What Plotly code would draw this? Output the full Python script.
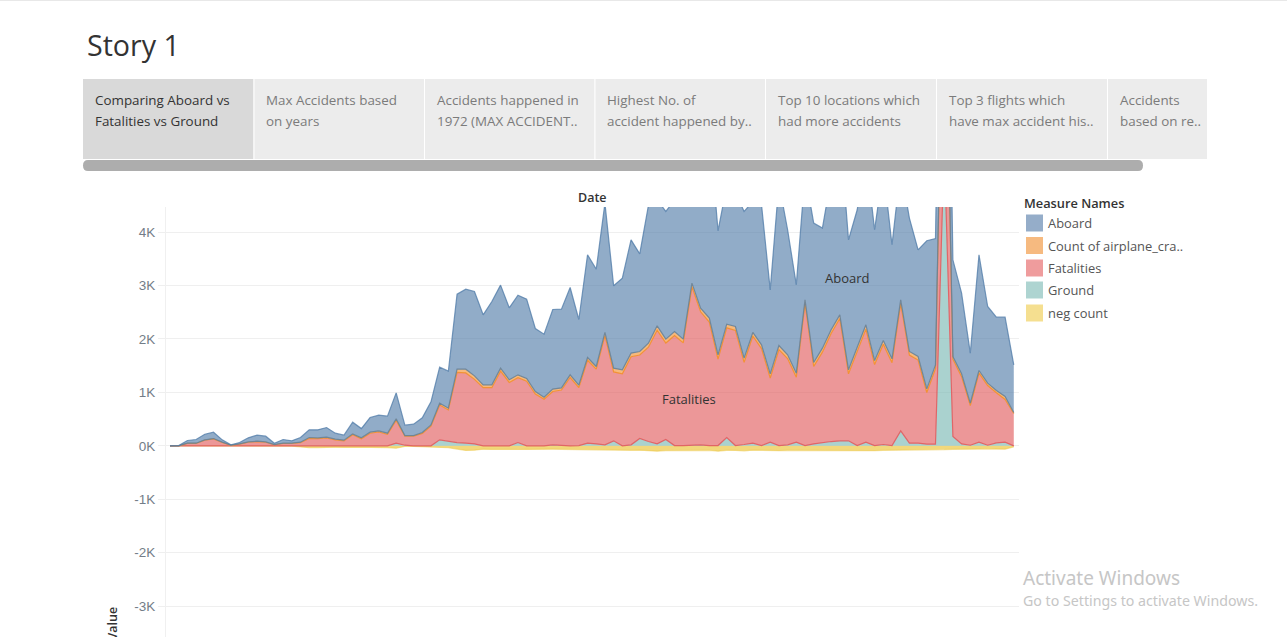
import plotly.graph_objects as go

# Values. *_top lists are the stacked upper edge of each band.
years = list(range(1912, 2010))
aboard_top = [0,6,100,119,218,256,112,19,62,150,200,181,50,119,94,156,300,300,343,237,200,443,324,530,574,555,992,387,406,524,824,1473,1398,2839,2933,2889,2452,2702,3008,2583,2820,2746,2196,2090,2552,2558,2964,2365,3576,3307,
 4543,2995,3139,3856,3594,4500,4605,4387,4605,4668,4730,4730,5978,4025,4867,4740,4387,4574,4512,2920,4917,4044,3014,5104,4168,4075,4980,5959,3856,4418,5466,4044,5198,3763,5204,4262,3669,3838,3881,14000,3482,2858,1735,3576,2608,2409,2409,1516]
count_top = [0,0,50,50,112,137,69,12,37,75,87,75,25,50,50,69,156,150,162,125,106,225,150,256,281,237,506,193,193,250,393,799,705,1435,1435,1310,1142,1142,1454,1236,1329,1260,1017,911,1061,1086,1329,1136,1654,1485,
 2122,1454,1423,1735,1766,1922,2246,1997,2140,1997,3045,2577,2390,1704,2278,2234,1641,2122,1891,1348,1878,1704,1360,2733,1560,1828,2172,2452,1423,1860,2265,1597,1972,1629,2733,1766,1672,1067,1516,9600,1672,1348,799,1410,1173,1036,924,624]
count_vals = [0,0,4,5,6,8,5,2,4,7,8,7,4,6,6,10,16,16,15,14,14,18,16,20,22,20,30,12,12,16,24,35,32,62,70,66,54,54,56,50,54,50,46,38,44,42,50,47,52,50,
 58,70,74,68,66,76,80,72,74,70,70,68,72,80,70,74,78,66,70,78,76,70,74,74,72,74,70,68,76,78,80,76,70,72,70,68,66,68,70,55,50,52,44,48,44,42,56,18]
neg_count = [0,0,-4,-5,-6,-8,-5,-2,-4,-7,-8,-7,-4,-6,-6,-20,-35,-35,-25,-25,-30,-25,-30,-30,-30,-35,-45,-10,-10,-15,-30,-35,-35,-60,-85,-80,-62,-66,-70,-66,-68,-66,-62,-62,-62,-64,-68,-66,-68,-72,
 -76,-84,-90,-84,-80,-92,-100,-88,-86,-84,-82,-80,-84,-100,-84,-86,-92,-80,-84,-92,-90,-84,-86,-86,-84,-90,-86,-92,-98,-88,-88,-90,-84,-84,-80,-80,-78,-78,-80,-70,-64,-66,-56,-60,-56,-56,-62,-18]
ground_top = [0]*26 + [50,12,0,0,0,112,81,62,50,37,0,0,0,0,62,0,0,0,19,6,0,6,50,37,
 19,94,0,19,137,81,37,119,6,6,19,19,6,6,156,6,25,50,6,69,6,19,69,6,37,62,81,94,94,6,69,6,25,6,281,50,50,31,31,5580,175,37,12,69,12,56,69,0]
tick_vals = [-3000,-2000,-1000,0,1000,2000,3000,4000]
tick_text = ["-3K","-2K","-1K","0K","1K","2K","3K","4K"]
tabs = ["Comparing Aboard vs<br>Fatalities vs Ground","Max Accidents based<br>on years","Accidents happened in<br>1972 (MAX ACCIDENT..","Highest No. of<br>accident happened by..","Top 10 locations which<br>had more accidents","Top 3 flights which<br>have max accident his..","Accidents<br>based on re.."]
legend_names = ["Aboard","Count of airplane_cra..","Fatalities","Ground","neg count"]

fatal_top = [c - n for c, n in zip(count_top, count_vals)]

FONT = "Open Sans"
L, R, T, B = 166, 1019, 207, 637
px = lambda x: (x - L) / (R - L)
py = lambda y: (B - y) / (B - T)
rgba = lambda rgb, a: f"rgba({rgb},{a})"
BLUE, ORANGE, RED, TEAL, YELLOW = "78,121,167", "242,142,43", "225,87,89", "118,183,178", "237,201,72"
ALPHA = 0.62

fig = go.Figure()
def area(y, fill, fillc, linec, name, alpha=ALPHA):
    fig.add_trace(go.Scatter(x=years, y=y, name=name, mode="lines", fill=fill, fillcolor=rgba(fillc, alpha),
                             line=dict(color=linec, width=1.2), showlegend=False))
area(neg_count, "tozeroy", YELLOW, rgba(YELLOW, 0.55), "neg count", alpha=0.72)
area(ground_top, "tozeroy", TEAL, rgba(RED, 0.85), "Ground")
area(fatal_top, "tonexty", RED, rgba(ORANGE, 0.9), "Fatalities")
area(count_top, "tonexty", ORANGE, "rgba(105,130,150,0.9)", "Count of airplane_crashes")
area(aboard_top, "tonexty", BLUE, rgba(BLUE, 0.75), "Aboard")

shapes, ann = [], []
def rect(x0, y0, x1, y1, color):
    shapes.append(dict(type="rect", xref="paper", yref="paper", x0=px(x0), x1=px(x1), y0=py(y1), y1=py(y0),
                       fillcolor=color, line=dict(width=0), layer="below"))
def text(x, y, s, size=13, color="#555", xanchor="left", yanchor="middle", angle=0, family=FONT, weight=400):
    ann.append(dict(xref="paper", yref="paper", x=px(x), y=py(y), text=s, showarrow=False, xanchor=xanchor, yanchor=yanchor,
                    align="left", textangle=angle, font=dict(size=size, color=color, family=family, weight=weight), borderpad=0, borderwidth=0))

rect(0, 0, 1287, 1, "#e8e8e8")
text(87, 44.5, "Story 1", size=28.6, color="#333333")
edges = [(83,253.3),(254.5,424),(425,594.3),(595.5,765),(766,936),(937,1107),(1108,1207)]
for k, ((x0, x1), t) in enumerate(zip(edges, tabs)):
    rect(x0, 79, x1, 159, "#d9d9d9" if k == 0 else "#ececec")
    a, b = t.split("<br>")
    c = "#333333" if k == 0 else "#7b7b7b"
    text(x0 + 11.7, 100, a, size=13.4, color=c)
    text(x0 + 11.7, 121, b, size=13.4, color=c)
# scrollbar
shapes.append(dict(type="path", xref="paper", yref="paper", layer="below", fillcolor="#adadad", line=dict(width=0),
    path=f"M {px(88)} {py(160)} L {px(1138)} {py(160)} Q {px(1143)} {py(160)} {px(1143)} {py(165.5)} Q {px(1143)} {py(171)} {px(1138)} {py(171)} L {px(88)} {py(171)} Q {px(83)} {py(171)} {px(83)} {py(165.5)} Q {px(83)} {py(160)} {px(88)} {py(160)} Z"))

text(592, 197.5, "Date", size=12.5, color="#333333", xanchor="center", weight=600)
text(847, 278, "Aboard", color="#333333", xanchor="center")
text(689, 399, "Fatalities", color="#333333", xanchor="center")
text(112, 623.5, "Value", size=12.5, color="#333333", xanchor="center", angle=-90, weight=600)

text(1024, 203, "Measure Names", size=12.8, color="#333333", weight=600)
swatch = ["#95adc9", "#f6ba80", "#ef9c9d", "#aed4d1", "#f5df90"]
ys = [223, 245.5, 268, 290, 313]
for name, c, y in zip(legend_names, swatch, ys):
    rect(1026, y - 8.5, 1043, y + 8.5, c)
    text(1047.5, y, name, size=12.9, color="#555555")

text(1023, 578, "Activate Windows", size=19, color="#c6c6c6", family="Noto Sans")
text(1023, 600.5, "Go to Settings to activate Windows.", size=14.2, color="#c6c6c6", family="Noto Sans")

fig.update_layout(
    width=1287, height=637, margin=dict(l=L, r=1287-R, t=T, b=0),
    paper_bgcolor="white", plot_bgcolor="white", showlegend=False,
    font=dict(family=FONT),
    xaxis=dict(range=[1911.54, 2009.6], visible=False),
    yaxis=dict(range=[-3577, 4470], tickvals=tick_vals, ticktext=tick_text, showgrid=True, gridcolor="#efefef", gridwidth=1,
               zeroline=False, showline=True, linecolor="#f0f0f0", ticks="outside", ticklen=7, tickcolor="#efefef",
               tickfont=dict(size=13.5, color="#737d88", family="Liberation Sans")),
    shapes=shapes, annotations=ann,
)
fig.write_html("out.html", config=dict(displayModeBar=False),
               post_script="document.body.style.margin='0';document.documentElement.style.overflow='hidden';")
